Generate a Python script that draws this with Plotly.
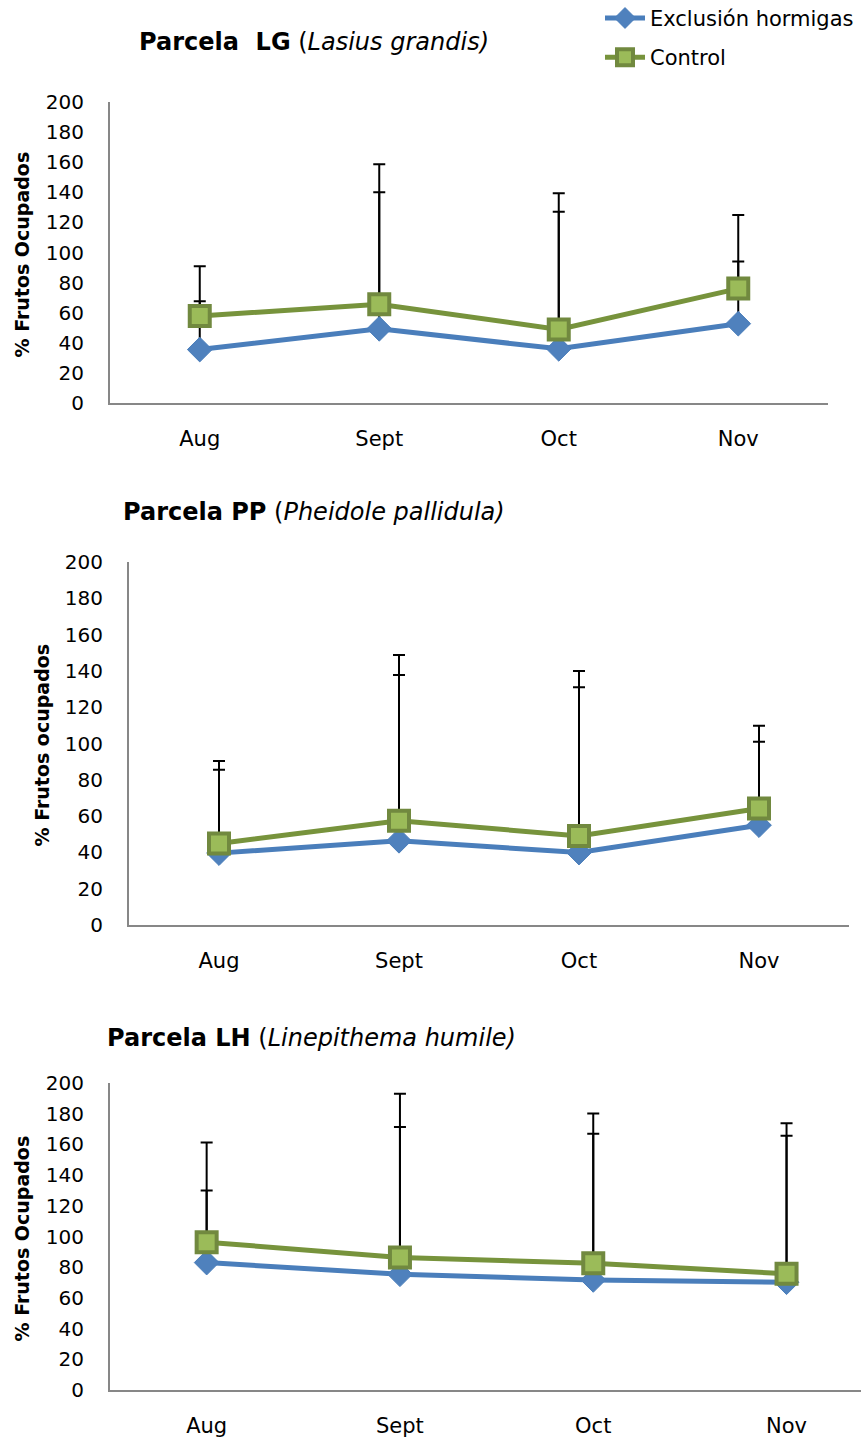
import plotly.graph_objects as go

W, H = 861, 1439

months = ["Aug", "Sept", "Oct", "Nov"]

# Parcela LG (Lasius grandis)
lg_exclusion = [35.5, 49.3, 36.0, 52.7]
lg_control = [57.8, 65.6, 48.9, 76.0]
lg_exclusion_err = [32.1, 90.7, 91.1, 41.3]
lg_control_err = [33.1, 93.1, 90.4, 48.9]

# Parcela PP (Pheidole pallidula)
pp_exclusion = [39.6, 46.4, 39.9, 55.0]
pp_control = [44.9, 57.4, 49.1, 64.2]
pp_exclusion_err = [46.0, 91.4, 91.1, 46.0]
pp_control_err = [45.4, 91.3, 90.9, 45.6]

# Parcela LH (Linepithema humile)
lh_exclusion = [83.0, 75.4, 71.7, 70.2]
lh_control = [96.3, 86.3, 82.6, 75.7]
lh_exclusion_err = [47.0, 95.9, 95.3, 95.5]
lh_control_err = [65.0, 106.7, 97.6, 98.0]

y_ticks = list(range(0, 201, 20))

BLUE_LINE = "#4A7EBB"
BLUE_MARK = "#4F81BD"
GREEN_LINE = "#77933C"
GREEN_FILL = "#9BBB59"
GREEN_EDGE = "#71893F"
AXIS_GREY = "#878787"
FONT = "DejaVu Sans"


def px_x(p):
    return p / W


def px_y(p):
    return 1 - p / H


panels = [
    dict(excl=lg_exclusion, ctrl=lg_control, e_err=lg_exclusion_err, c_err=lg_control_err,
         x0=110, x1=828, top=102, bottom=403, xrange=[-0.5, 3.5],
         ytitle="% Frutos Ocupados", ytitle_x=21,
         title="<b>Parcela\u00a0\u00a0LG</b> (<i>Lasius grandis)</i>", title_x=137, title_y=42),
    dict(excl=pp_exclusion, ctrl=pp_control, e_err=pp_exclusion_err, c_err=pp_control_err,
         x0=129, x1=849, top=562, bottom=925, xrange=[-0.5, 3.5],
         ytitle="% Frutos ocupados", ytitle_x=41,
         title="<b>Parcela PP</b> (<i>Pheidole pallidula)</i>", title_x=121, title_y=512),
    dict(excl=lh_exclusion, ctrl=lh_control, e_err=lh_exclusion_err, c_err=lh_control_err,
         x0=110, x1=861, top=1083, bottom=1390, xrange=[-0.5, -0.5 + 751 / 193.3],
         ytitle="% Frutos Ocupados", ytitle_x=21,
         title="<b>Parcela LH</b> (<i>Linepithema humile)</i>", title_x=105, title_y=1038),
]

fig = go.Figure()
annotations = []
layout_axes = {}

for i, p in enumerate(panels, start=1):
    xa = "x" if i == 1 else f"x{i}"
    ya = "y" if i == 1 else f"y{i}"
    first = i == 1

    fig.add_trace(go.Scatter(
        x=months, y=p["excl"], xaxis=xa, yaxis=ya,
        name="Exclusión hormigas", legendgroup="excl", showlegend=first,
        mode="lines+markers",
        line=dict(color=BLUE_LINE, width=5),
        marker=dict(symbol="diamond", size=19, color=BLUE_MARK,
                    line=dict(color=BLUE_LINE, width=1)),
        error_y=dict(type="data", symmetric=False, array=p["e_err"],
                     arrayminus=[0] * 4, color="black", thickness=2, width=6),
    ))
    fig.add_trace(go.Scatter(
        x=months, y=p["ctrl"], xaxis=xa, yaxis=ya,
        name="Control", legendgroup="ctrl", showlegend=first,
        mode="lines+markers",
        line=dict(color=GREEN_LINE, width=5),
        marker=dict(symbol="square", size=20, color=GREEN_FILL,
                    line=dict(color=GREEN_EDGE, width=4)),
        error_y=dict(type="data", symmetric=False, array=p["c_err"],
                     arrayminus=[0] * 4, color="black", thickness=2, width=6),
    ))

    layout_axes[f"xaxis{'' if i == 1 else i}"] = dict(
        domain=[px_x(p["x0"]), min(1.0, px_x(p["x1"]))],
        anchor=ya, type="category", range=p["xrange"], automargin=False,
        showline=True, linecolor=AXIS_GREY, linewidth=2,
        showgrid=False, zeroline=False,
        ticks="outside", ticklen=16, tickcolor="rgba(0,0,0,0)",
        tickfont=dict(family=FONT, size=21, color="black"),
    )
    layout_axes[f"yaxis{'' if i == 1 else i}"] = dict(
        domain=[px_y(p["bottom"]), px_y(p["top"])],
        anchor=xa, range=[0, 200], tickvals=y_ticks, automargin=False,
        showline=True, linecolor=AXIS_GREY, linewidth=2,
        showgrid=False, zeroline=False,
        ticks="outside", ticklen=20, tickcolor="rgba(0,0,0,0)",
        tickfont=dict(family=FONT, size=20, color="black"),
    )

    annotations.append(dict(
        xref="paper", yref="paper",
        x=px_x(p["ytitle_x"]), y=px_y((p["top"] + p["bottom"]) / 2 + 2),
        text=f"<b>{p['ytitle']}</b>", textangle=-90, showarrow=False,
        xanchor="center", yanchor="middle",
        font=dict(family=FONT, size=19, color="black"),
    ))
    annotations.append(dict(
        xref="paper", yref="paper",
        x=px_x(p["title_x"]), y=px_y(p["title_y"]),
        text=p["title"], showarrow=False,
        xanchor="left", yanchor="middle",
        font=dict(family=FONT, size=24, color="black"),
    ))

fig.update_layout(
    width=W, height=H,
    margin=dict(l=0, r=0, t=0, b=0, autoexpand=False),
    paper_bgcolor="white", plot_bgcolor="white",
    annotations=annotations,
    showlegend=True,
    legend=dict(
        x=px_x(600), y=1.0015, xanchor="left", yanchor="top",
        font=dict(family=FONT, size=21, color="black"),
        bgcolor="rgba(0,0,0,0)", tracegroupgap=9,
        itemwidth=40,
    ),
    **layout_axes,
)

fig.write_html("out.html")
